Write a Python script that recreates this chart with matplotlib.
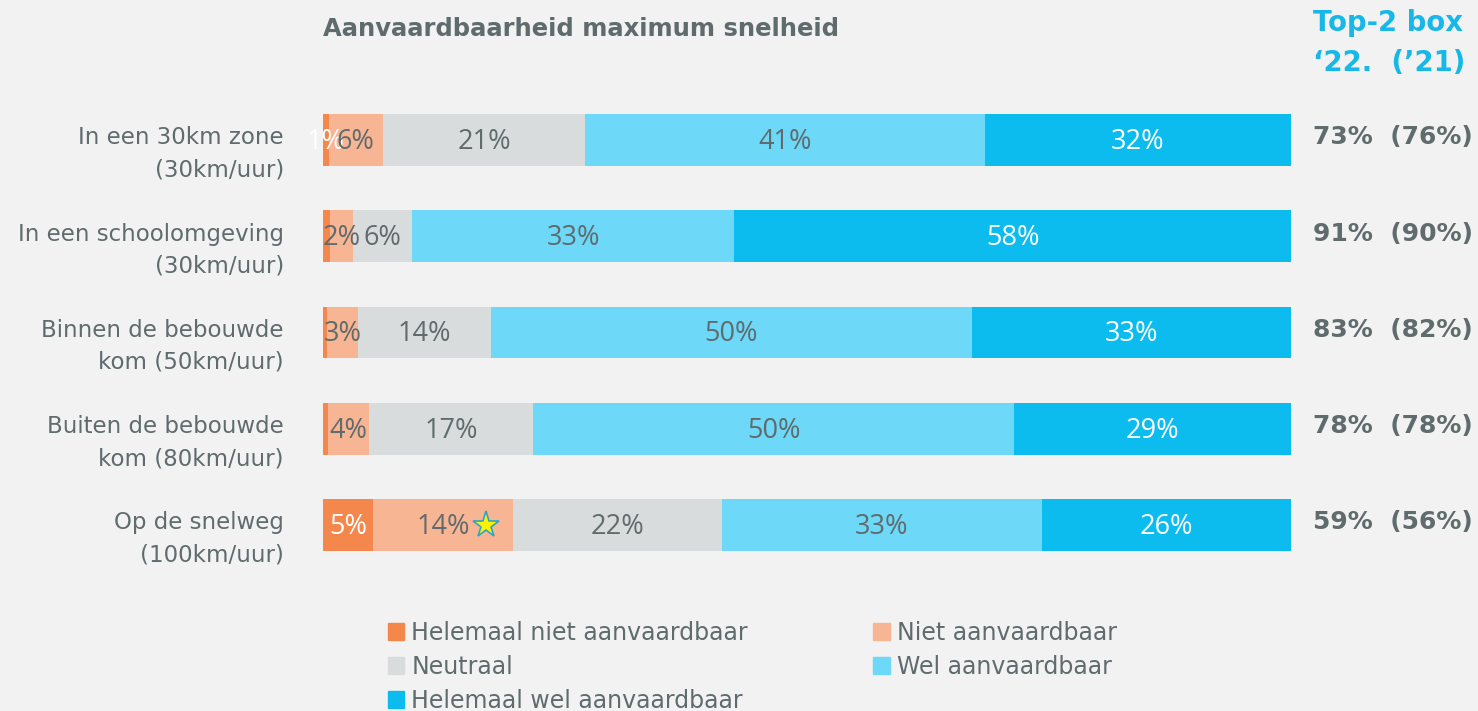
import matplotlib.pyplot as plt
import matplotlib.patches as mpatches
from matplotlib.transforms import offset_copy

# answers per situation, share of respondents (%)
situations = ['In een 30km zone\n(30km/uur)',
              'In een schoolomgeving\n(30km/uur)',
              'Binnen de bebouwde\nkom (50km/uur)',
              'Buiten de bebouwde\nkom (80km/uur)',
              'Op de snelweg\n(100km/uur)']
answers = ['Helemaal niet aanvaardbaar', 'Niet aanvaardbaar', 'Neutraal',
           'Wel aanvaardbaar', 'Helemaal wel aanvaardbaar']
helemaal_niet = [0.6, 0.7, 0.4, 0.5, 5.2]
niet = [5.6, 2.4, 3.2, 4.3, 14.4]
neutraal = [20.9, 6.1, 13.8, 16.9, 21.6]
wel = [41.3, 33.3, 49.6, 49.7, 33.1]
helemaal_wel = [31.6, 57.5, 33.0, 28.6, 25.7]
# top-2 box 2022 and 2021
top2_22 = [73, 91, 83, 78, 59]
top2_21 = [76, 90, 82, 78, 56]

series = [helemaal_niet, niet, neutraal, wel, helemaal_wel]
colors = ['#F4874B', '#F8B593', '#D9DCDD', '#6DD8F7', '#0DBCEE']
label_colors = ['white', '#5F6B6D', '#5F6B6D', '#5F6B6D', 'white']
# tiny first segments whose label is left out
hidden = [(1, 0), (2, 0), (3, 0)]

grey = '#5F6B6D'
bg = '#F2F2F2'

fig = plt.figure(figsize=(14.78, 7.11), dpi=100, facecolor=bg)
ax = fig.add_axes([323 / 1478, 1 - 573 / 711, 968 / 1478, 481 / 711])
ax.set_facecolor(bg)

ys = list(range(len(situations)))
left = [0.0] * len(situations)
for k, vals in enumerate(series):
    ax.barh(ys, vals, left=left, height=0.54, color=colors[k], label=answers[k])
    for i, v in enumerate(vals):
        if (i, k) in hidden:
            continue
        ax.text(left[i] + v / 2, ys[i] + 0.02, f'{v:.0f}%', ha='center', va='center',
                fontsize=19.5, color=label_colors[k], family='Open Sans')
    left = [a + b for a, b in zip(left, vals)]

# star next to the 14% on the motorway row
i = 4
ax.plot([helemaal_niet[i] + niet[i] / 2], [ys[i]], marker='*', markersize=20,
        markerfacecolor='#FFF200', markeredgecolor='#2AA6C8', markeredgewidth=1.2,
        transform=offset_copy(ax.transData, fig=fig, x=31, y=0, units='points'))

ax.set_xlim(0, 100)
ax.set_ylim(4.5, -0.5)
ax.axis('off')

# situation labels, left of the bars
lab_tr = offset_copy(ax.get_yaxis_transform(), fig=fig, x=0, y=-10, units='points')
for i, s in enumerate(situations):
    ax.text(-0.0403, ys[i], s, ha='right', va='center', fontsize=16.5, color=grey,
            linespacing=1.5, transform=lab_tr)

# top-2 box figures on the right
top_tr = offset_copy(ax.get_yaxis_transform(), fig=fig, x=0, y=2, units='points')
for i in ys:
    ax.text(1.0227, ys[i], f'{top2_22[i]}%  ({top2_21[i]}%)', ha='left', va='center',
            fontsize=18, fontweight='bold', color=grey, transform=top_tr)

fig.text(1313 / 1478, 1 - 23 / 711, 'Top-2 box', ha='left', va='center', fontsize=19.8,
         fontweight='bold', color='#17B8E8')
fig.text(1313 / 1478, 1 - 63 / 711, '\u201822.  (\u201921)', ha='left', va='center',
         fontsize=19.8, fontweight='bold', color='#17B8E8')
fig.text(323 / 1478, 1 - 29 / 711, 'Aanvaardbaarheid maximum snelheid', ha='left',
         va='center', fontsize=17.5, fontweight='bold', color=grey)

handles = [mpatches.Patch(color=c) for c in colors]
order = [0, 2, 4, 1, 3]
fig.legend([handles[j] for j in order], [answers[j] for j in order],
           loc='upper left', bbox_to_anchor=(376 / 1478, 1 - 609 / 711), ncol=2,
           frameon=False, fontsize=17, labelcolor=grey, handlelength=0.7,
           handleheight=0.7, handletextpad=0.3, labelspacing=0.42, columnspacing=5.3,
           borderpad=0)

fig.savefig('out.png', dpi=100, facecolor=bg)
